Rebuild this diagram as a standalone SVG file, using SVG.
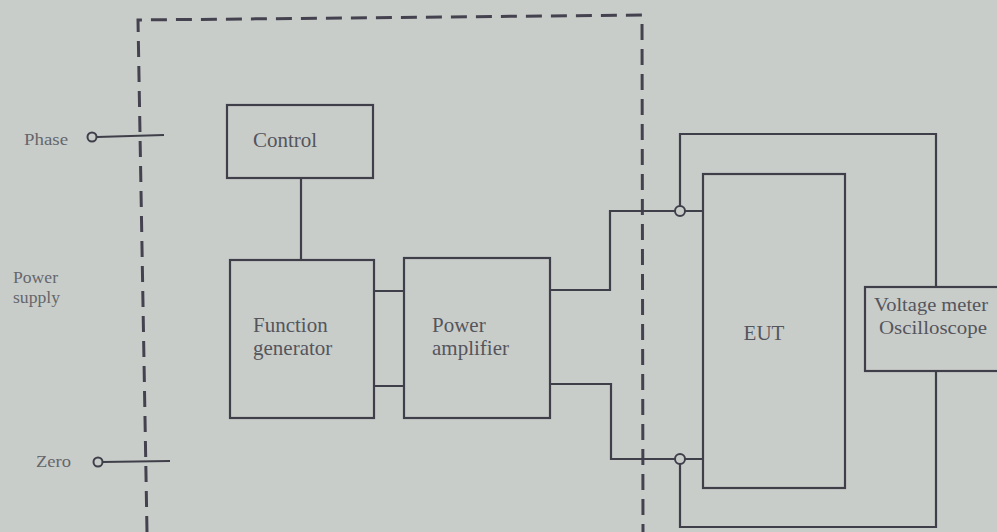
<svg xmlns="http://www.w3.org/2000/svg" width="997" height="532" viewBox="0 0 997 532">
<style>
.bg{fill:#c9cdca}
.box{fill:none;stroke:#3f3f4a;stroke-width:2.2}
.wire{fill:none;stroke:#3f3f4a;stroke-width:2.2}
.dash{fill:none;stroke:#44424f;stroke-width:3;stroke-dasharray:16,9}
.term{fill:#c9cdca;stroke:#3f3f4a;stroke-width:2}
text{font-family:"Liberation Serif","DejaVu Serif",serif;fill:#55555c}
.lbl{font-size:16px;fill:#66666b}
.nd{font-size:21px}
.vm{font-size:19px}
</style>
<rect class="bg" width="997" height="532"/>
<g id="enclosure"><path class="dash" d="M147,532 L138,20 L642,15 L643,532"/></g>
<g id="power-supply-labels">
<text class="lbl" x="24" y="145" textLength="44" lengthAdjust="spacingAndGlyphs">Phase</text>
<text class="lbl" x="13" y="283" textLength="45" lengthAdjust="spacingAndGlyphs">Power</text>
<text class="lbl" x="13" y="303" textLength="47" lengthAdjust="spacingAndGlyphs">supply</text>
<text class="lbl" x="36" y="467" textLength="35" lengthAdjust="spacingAndGlyphs">Zero</text>
</g>
<g id="control"><rect class="box" x="227" y="105" width="146" height="73"/><text class="nd" x="253" y="147">Control</text></g>
<g id="function-generator"><rect class="box" x="230" y="260" width="144" height="158"/><text class="nd" x="253" y="332">Function</text><text class="nd" x="253" y="355">generator</text></g>
<g id="power-amplifier"><rect class="box" x="404" y="258" width="146" height="160"/><text class="nd" x="432" y="332">Power</text><text class="nd" x="432" y="355">amplifier</text></g>
<g id="eut"><rect class="box" x="703" y="174" width="142" height="314"/><text class="nd" x="764" y="340" text-anchor="middle">EUT</text></g>
<g id="voltage-meter"><rect class="box" x="865" y="287" width="140" height="84"/><text class="vm" x="931" y="311" text-anchor="middle" textLength="114" lengthAdjust="spacingAndGlyphs">Voltage meter</text><text class="vm" x="933" y="334" text-anchor="middle" textLength="108" lengthAdjust="spacingAndGlyphs">Oscilloscope</text></g>
<g id="connectors">
<path class="wire" d="M97,137 L164,135"/>
<path class="wire" d="M102,462 L170,461"/>
<path class="wire" d="M301,178 V260"/>
<path class="wire" d="M374,291 H404 M374,386 H404"/>
<path class="wire" d="M550,290 H610 V211 H675 M685,211 H703"/>
<path class="wire" d="M550,384 H611 V459 H675 M685,459 H703"/>
<path class="wire" d="M680,206 V134 H936 V287"/>
<path class="wire" d="M680,464 V527 H936 V371"/>
<circle class="term" cx="92" cy="137" r="4.5"/>
<circle class="term" cx="98" cy="462" r="4.5"/>
<circle class="term" cx="680" cy="211" r="5"/>
<circle class="term" cx="680" cy="459" r="5"/>
</g>
</svg>
